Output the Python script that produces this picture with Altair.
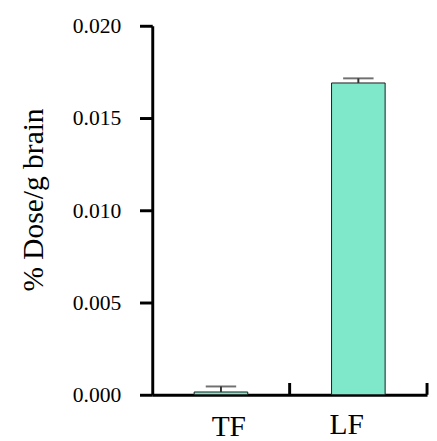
import altair as alt
import pandas as pd

groups = ["TF", "LF"]
means = [0.00015, 0.0169]
errors = [0.0003, 0.00025]

df = pd.DataFrame({"group": groups, "mean": means, "err": errors})
df["upper"] = df["mean"] + df["err"]

FONT = "Liberation Serif"
BAR = "#7FE8CA"

xenc = alt.X(
    "group:N",
    sort=groups,
    scale=alt.Scale(paddingInner=0, paddingOuter=0),
    axis=alt.Axis(
        title=None,
        ticks=False,
        domainWidth=3,
        domainColor="black",
        labelAngle=0,
        labelFont=FONT,
        labelFontSize=30,
        labelBaseline="top",
        labelPadding={"expr": "datum.value == 'TF' ? 18 : 15"},
        labelOffset={"expr": "datum.value == 'TF' ? 8 : -12"},
    ),
)

yscale = alt.Scale(domain=[0, 0.02], nice=False)
yaxis = alt.Axis(
    title="% Dose/g brain",
    values=[0, 0.005, 0.01, 0.015, 0.02],
    format=".3f",
    grid=False,
    domainWidth=3,
    domainColor="black",
    tickWidth=3,
    tickColor="black",
    tickSize=13,
    labelPadding=19,
    labelFont=FONT,
    labelFontSize=22,
    titleFont=FONT,
    titleFontSize=30,
    titleX=-112,
    titleY=177,
    titleBaseline="alphabetic",
)

base = alt.Chart(df)

bars = base.mark_bar(
    width=alt.RelativeBandSize(0.39), fill=BAR, stroke="#1a1a1a", strokeWidth=1
).encode(x=xenc, y=alt.Y("mean:Q", scale=yscale, axis=yaxis))

stems = base.mark_rule(color="#333333", strokeWidth=2).encode(
    x=alt.X("group:N", sort=groups),
    y=alt.Y("mean:Q"),
    y2="upper:Q",
)

caps = base.mark_tick(color="#333333", thickness=2, size=31).encode(
    x=alt.X("group:N", sort=groups),
    y=alt.Y("upper:Q"),
)

inner_ticks = base.mark_rule(color="black", strokeWidth=3).encode(
    x=alt.X("group:N", sort=groups, bandPosition=1),
    y=alt.value(376),
    y2=alt.value(364),
)

chart = (
    alt.layer(bars, stems, caps, inner_ticks)
    .properties(
        width=280,
        height=376,
        autosize=alt.AutoSizeParams(type="none"),
        padding={"left": 147, "top": 14, "right": 2, "bottom": 43},
        background="white",
    )
    .configure(font=FONT)
    .configure_view(stroke=None)
    .configure_axis(
        labelFont=FONT,
        titleFont=FONT,
        labelColor="black",
        titleColor="black",
        titleFontWeight="normal",
        labelFontWeight="normal",
    )
)

chart.save("out.html", embed_options={"renderer": "svg", "actions": False})
